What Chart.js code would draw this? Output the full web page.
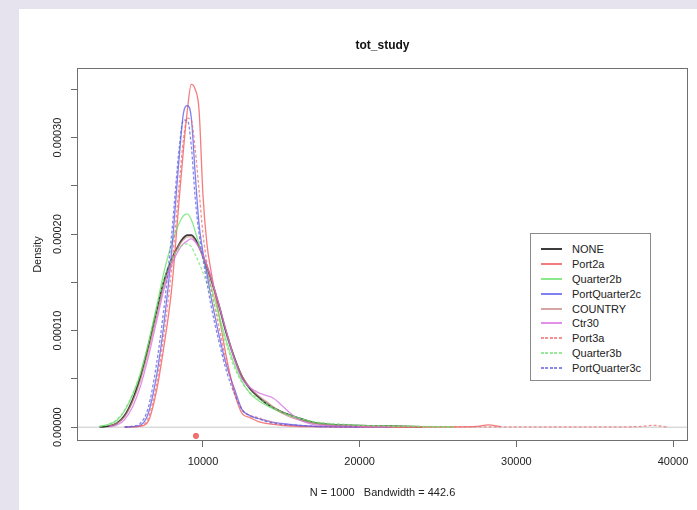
<!DOCTYPE html>
<html lang="en">
<head>
<meta charset="UTF-8">
<title>tot_study</title>
<style>
    body {
        margin: 0;
        padding: 0;
        width: 697px;
        height: 510px;
        overflow: hidden;
        position: relative;
        background: #e6e2ee;
        font-family: Arial, "Liberation Sans", sans-serif;
    }
    #panel {
        position: absolute;
        left: 19px;
        top: 9px;
        right: 0;
        bottom: 0;
        background: #fff;
    }
    #chart {
        position: absolute;
        left: 0;
        top: 0;
    }
    #legend {
        position: absolute;
        left: 530px;
        top: 233px;
        width: 121px;
        height: 148px;
        box-sizing: border-box;
        border: 1px solid #8a8a8a;
        background: #fff;
        padding-top: 8px;
    }
    .row {
        height: 14.8px;
        display: flex;
        align-items: center;
        font-size: 11px;
        color: #222;
    }
    .swatch {
        width: 21px;
        height: 2px;
        margin-left: 10px;
        margin-right: 10px;
    }
</style>
<script src="https://cdn.jsdelivr.net/npm/chart.js"></script>
</head>
<body>
<div id="panel"></div>
<canvas id="chart" width="697" height="510"></canvas>
<div id="legend"></div>

<script>
// grid of x positions the densities were read at
const xs = [3400, 4000, 4500, 5000, 5500, 6000, 6500, 7000, 7500, 8000,
            8500, 8750, 9000, 9250, 9500, 9750, 10000, 10250, 10500, 11000,
            11500, 12000, 12500, 13000, 13500, 14000, 14500, 15000, 16000, 17000,
            18000, 19000, 20000, 22000, 24000, 26000, 27500, 28200, 29000, 32000,
            36000, 38000, 38700, 39600];

const seriesNames = ['NONE', 'Port2a', 'Quarter2b', 'PortQuarter2c', 'COUNTRY',
                     'Ctr30', 'Port3a', 'Quarter3b', 'PortQuarter3c'];

const densNone = [0.3e-6, 1e-6, 4e-6, 12e-6, 28e-6, 52e-6, 83e-6, 118e-6, 151e-6, 174e-6,
                  190e-6, 196e-6, 199e-6, 199e-6, 195e-6, 187e-6, 177e-6, 166e-6, 154e-6, 127e-6,
                  97e-6, 72e-6, 52e-6, 40e-6, 32e-6, 25e-6, 20e-6, 16e-6, 10e-6, 5e-6,
                  3e-6, 2e-6, 1.5e-6, 1e-6, 0.3e-6, null, null, null, null, null,
                  null, null, null, null];

const densPort2a = [null, null, null, 0.1e-6, 0.3e-6, 1e-6, 6e-6, 35e-6, 83e-6, 143e-6,
                    240e-6, 287e-6, 328e-6, 355e-6, 350e-6, 328e-6, 240e-6, 190e-6, 163e-6, 118e-6,
                    72e-6, 36e-6, 14e-6, 10e-6, 6e-6, 4e-6, 3e-6, 2e-6, 1e-6, 0.5e-6,
                    0.3e-6, 0.2e-6, 0.2e-6, 0.2e-6, 0.2e-6, 0.3e-6, 0.8e-6, 2.5e-6, 0.5e-6, null,
                    null, null, null, null];

const densQuarter2b = [1e-6, 3e-6, 7e-6, 17e-6, 33e-6, 55e-6, 86e-6, 122e-6, 160e-6, 190e-6,
                       212e-6, 219e-6, 221e-6, 215e-6, 203e-6, 189e-6, 175e-6, 161e-6, 147e-6, 117e-6,
                       89e-6, 65e-6, 47e-6, 35e-6, 28e-6, 23e-6, 19e-6, 15e-6, 10e-6, 5e-6,
                       3e-6, 2e-6, 1.5e-6, 1e-6, 0.5e-6, 0.2e-6, null, null, null, null,
                       null, null, null, null];

const densPortQuarter2c = [null, null, null, 0.1e-6, 0.5e-6, 2e-6, 14e-6, 50e-6, 106e-6, 182e-6,
                           283e-6, 325e-6, 333e-6, 321e-6, 263e-6, 210e-6, 181e-6, 159e-6, 136e-6, 97e-6,
                           64e-6, 40e-6, 18e-6, 12e-6, 9e-6, 7e-6, 5e-6, 4e-6, 2e-6, 1e-6,
                           0.5e-6, 0.3e-6, 0.2e-6, 0.1e-6, null, null, null, null, null, null,
                           null, null, null, null];

const densCountry = [null, 1e-6, 4e-6, 11e-6, 26e-6, 48e-6, 78e-6, 112e-6, 146e-6, 172e-6,
                     189e-6, 194e-6, 197e-6, 197e-6, 193e-6, 186e-6, 177e-6, 167e-6, 155e-6, 128e-6,
                     99e-6, 72e-6, 53e-6, 41e-6, 33e-6, 27e-6, 21e-6, 15e-6, 8e-6, 4e-6,
                     2e-6, 1.5e-6, 1e-6, 0.5e-6, 0.3e-6, null, null, null, null, null,
                     null, null, null, null];

const densCtr30 = [null, 0.5e-6, 2e-6, 8e-6, 21e-6, 42e-6, 72e-6, 107e-6, 142e-6, 168e-6,
                   185e-6, 190e-6, 193e-6, 195e-6, 192e-6, 186e-6, 178e-6, 168e-6, 156e-6, 128e-6,
                   98e-6, 70e-6, 50e-6, 41e-6, 36e-6, 33e-6, 30e-6, 23e-6, 9e-6, 3e-6,
                   1.5e-6, 1e-6, 0.5e-6, 0.3e-6, null, null, null, null, null, null,
                   null, null, null, null];

const densPort3a = [null, null, null, 0.2e-6, 0.5e-6, 1.5e-6, 9e-6, 42e-6, 95e-6, 165e-6,
                    255e-6, 298e-6, 320e-6, 318e-6, 288e-6, 245e-6, 200e-6, 170e-6, 145e-6, 105e-6,
                    68e-6, 38e-6, 18e-6, 12e-6, 10e-6, 7e-6, 5e-6, 3e-6, 1.5e-6, 0.8e-6,
                    0.5e-6, 0.4e-6, 0.3e-6, 0.3e-6, 0.3e-6, 0.3e-6, 0.3e-6, 0.4e-6, 0.3e-6, 0.3e-6,
                    0.3e-6, 0.8e-6, 2e-6, 0.2e-6];

const densQuarter3b = [0.5e-6, 3e-6, 8e-6, 18e-6, 34e-6, 56e-6, 86e-6, 120e-6, 152e-6, 174e-6,
                       186e-6, 189e-6, 190e-6, 187e-6, 179e-6, 170e-6, 160e-6, 149e-6, 138e-6, 112e-6,
                       85e-6, 62e-6, 46e-6, 36e-6, 30e-6, 25e-6, 20e-6, 16e-6, 10e-6, 6e-6,
                       4e-6, 3e-6, 2e-6, 1e-6, 0.8e-6, 0.5e-6, null, null, null, null,
                       null, null, null, null];

const densPortQuarter3c = [null, null, null, 0.3e-6, 1e-6, 4e-6, 20e-6, 62e-6, 122e-6, 200e-6,
                           292e-6, 318e-6, 318e-6, 292e-6, 238e-6, 200e-6, 174e-6, 150e-6, 127e-6, 90e-6,
                           58e-6, 35e-6, 18e-6, 12e-6, 9e-6, 6e-6, 4e-6, 3e-6, 2e-6, 1e-6,
                           0.5e-6, 0.3e-6, 0.2e-6, null, null, null, null, null, null, null,
                           null, null, null, null];

const seriesValues = [densNone, densPort2a, densQuarter2b, densPortQuarter2c, densCountry,
                      densCtr30, densPort3a, densQuarter3b, densPortQuarter3c];

// the red marker under the curves
const markerX = [9550];
const markerY = [-9e-6];

const xTicks = [10000, 20000, 30000, 40000];
const yTicks = [0, 0.00005, 0.0001, 0.00015, 0.0002, 0.00025, 0.0003, 0.00035];
const yLabelTicks = [0, 0.0001, 0.0002, 0.0003];

const mainTitle = 'tot_study';
const xTitle = 'N = 1000   Bandwidth = 442.6';
const yTitle = 'Density';

// styles
const seriesColors = ['rgba(25,25,25,0.85)', 'rgba(240,80,80,0.75)', 'rgba(100,225,100,0.75)',
                      'rgba(85,85,235,0.75)', 'rgba(200,135,130,0.75)', 'rgba(215,105,225,0.75)',
                      'rgba(238,110,110,0.75)', 'rgba(120,225,120,0.75)', 'rgba(95,95,230,0.75)'];
const seriesDashed = [false, false, false, false, false, false, true, true, true];
const seriesWidths = [1.8, 1.3, 1.3, 1.3, 1.3, 1.3, 1.3, 1.3, 1.3];

const fontFamily = 'Arial, "Liberation Sans", sans-serif';

function toPoints(values) {
    const pts = [];
    values.forEach(function(v, i) {
        if (v !== null) pts.push({x: xs[i], y: v});
    });
    return pts;
}

const datasets = seriesNames.map(function(name, i) {
    return {
        label: name,
        data: toPoints(seriesValues[i]),
        borderColor: seriesColors[i],
        borderWidth: seriesWidths[i],
        borderDash: seriesDashed[i] ? [3, 2] : [],
        pointRadius: 0,
        fill: false,
        cubicInterpolationMode: 'monotone',
        order: seriesNames.length - i
    };
});

// zero line, as plot.density draws it
datasets.push({
    label: 'zero',
    data: [{x: 1958, y: 0}, {x: 40957, y: 0}],
    borderColor: '#c8c8c8',
    borderWidth: 1,
    pointRadius: 0,
    order: 20
});

datasets.push({
    label: 'marker',
    data: markerX.map(function(x, i) { return {x: x, y: markerY[i]}; }),
    showLine: false,
    pointRadius: 2.6,
    pointBackgroundColor: 'rgba(240,90,90,0.85)',
    pointBorderColor: 'rgba(240,90,90,0.85)',
    order: 0
});

const boxPlugin = {
    id: 'rBox',
    afterDatasetsDraw(chart) {
        const a = chart.chartArea;
        const ctx = chart.ctx;
        ctx.save();
        ctx.strokeStyle = '#707070';
        ctx.lineWidth = 1;
        ctx.strokeRect(Math.round(a.left) + 0.5, Math.round(a.top) + 0.5,
                       Math.round(a.right - a.left) - 1, Math.round(a.bottom - a.top) - 1);
        ctx.font = 'bold 12px ' + fontFamily;
        ctx.fillStyle = '#111';
        ctx.textAlign = 'center';
        ctx.textBaseline = 'middle';
        ctx.fillText(mainTitle, (a.left + a.right) / 2, 46);
        ctx.restore();
    }
};

new Chart(document.getElementById('chart'), {
    type: 'line',
    data: { datasets: datasets },
    plugins: [boxPlugin],
    options: {
        responsive: false,
        animation: false,
        devicePixelRatio: 1,
        layout: { padding: { left: 0, right: 9, top: 68, bottom: 0 } },
        plugins: {
            legend: { display: false },
            tooltip: { enabled: false },
            title: { display: false }
        },
        scales: {
            x: {
                type: 'linear',
                min: 1958,
                max: 40957,
                afterBuildTicks: function(scale) {
                    scale.ticks = xTicks.map(function(v) { return {value: v}; });
                },
                afterFit: function(scale) { scale.height = 69; },
                grid: { drawOnChartArea: false, drawTicks: true, tickLength: 6, color: '#6a6a6a' },
                border: { display: false },
                ticks: {
                    autoSkip: false,
                    maxRotation: 0,
                    padding: 8,
                    color: '#222',
                    font: { size: 11, family: fontFamily },
                    callback: function(v) { return String(v); }
                },
                title: {
                    display: true,
                    text: xTitle,
                    color: '#222',
                    font: { size: 11, family: fontFamily },
                    padding: { top: 0, bottom: 10 }
                }
            },
            y: {
                type: 'linear',
                min: -0.0000143,
                max: 0.000372,
                afterBuildTicks: function(scale) {
                    scale.ticks = yTicks.map(function(v) { return {value: v}; });
                },
                afterFit: function(scale) { scale.width = 77; },
                grid: { drawOnChartArea: false, drawTicks: true, tickLength: 6, color: '#6a6a6a' },
                border: { display: false },
                ticks: {
                    autoSkip: false,
                    minRotation: 90,
                    maxRotation: 90,
                    crossAlign: 'center',
                    padding: -7,
                    color: '#222',
                    font: { size: 11, family: fontFamily },
                    callback: function(v) {
                        return yLabelTicks.includes(v) ? v.toFixed(5) : '';
                    }
                },
                title: {
                    display: true,
                    text: yTitle,
                    color: '#222',
                    font: { size: 11, family: fontFamily },
                    padding: { top: 31, bottom: 0 }
                }
            }
        }
    }
});

// legend
const legend = document.getElementById('legend');
seriesNames.forEach(function(name, i) {
    const row = document.createElement('div');
    row.className = 'row';
    const sw = document.createElement('span');
    sw.className = 'swatch';
    if (seriesDashed[i]) {
        sw.style.background = 'repeating-linear-gradient(90deg, ' + seriesColors[i] +
            ' 0 3px, transparent 3px 4.5px)';
    } else {
        sw.style.background = seriesColors[i];
    }
    const label = document.createElement('span');
    label.textContent = name;
    row.appendChild(sw);
    row.appendChild(label);
    legend.appendChild(row);
});
</script>
</body>
</html>
